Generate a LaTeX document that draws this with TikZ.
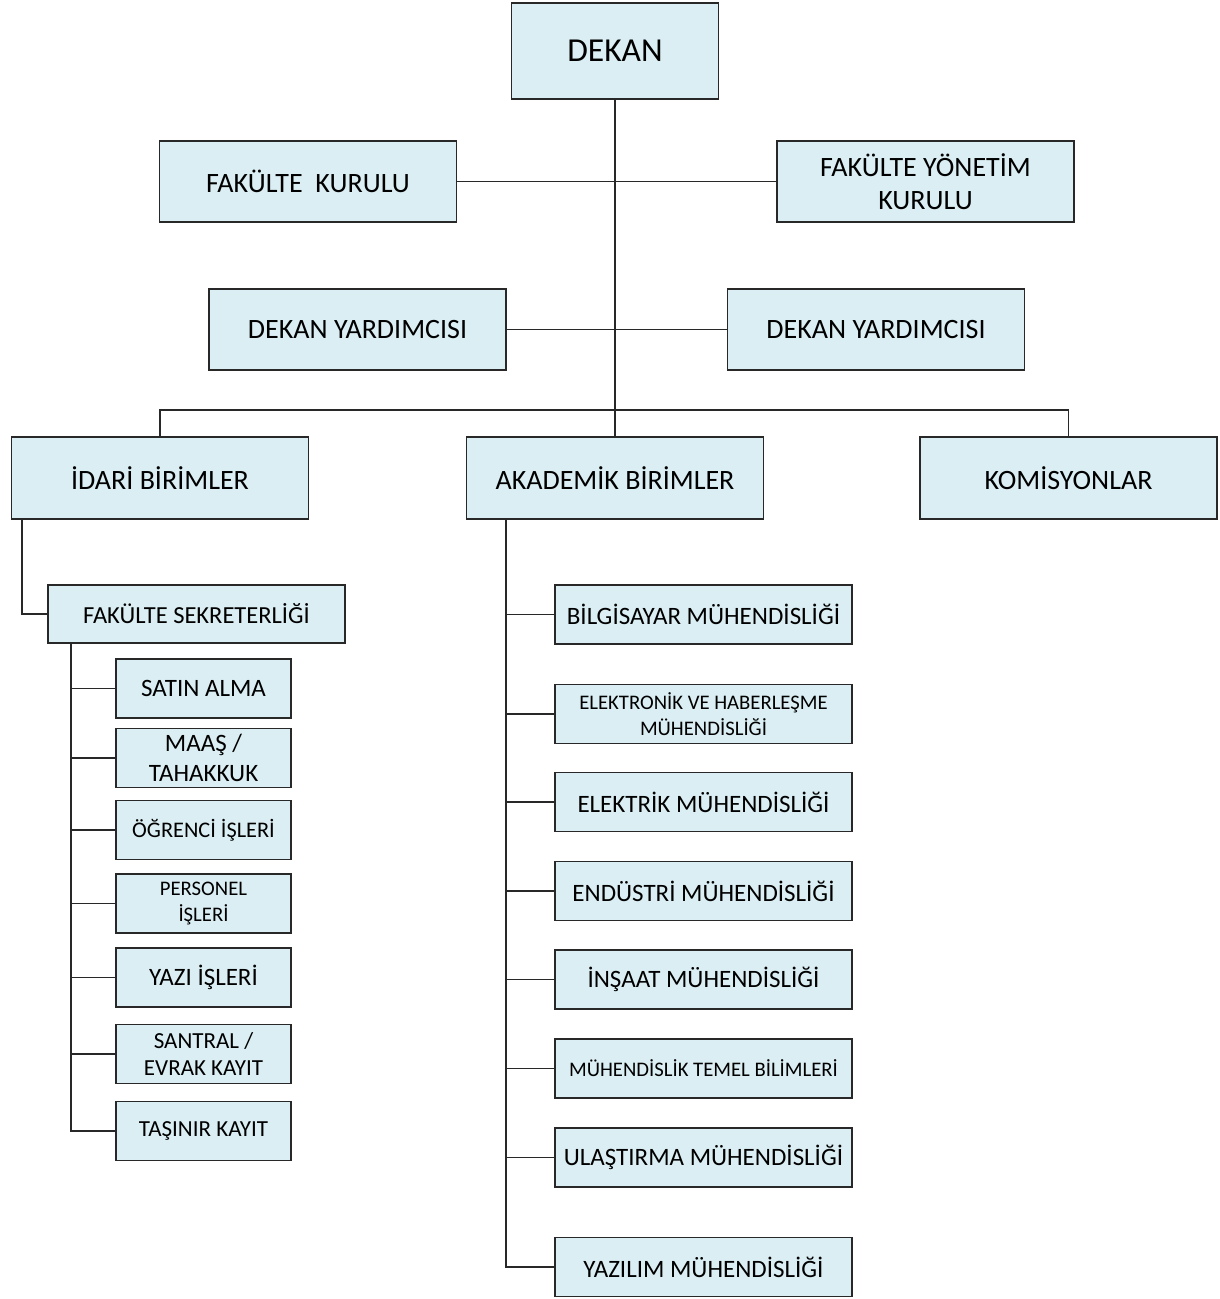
\documentclass[tikz,border=0pt]{standalone}
\usepackage{fontspec}
\setmainfont{Carlito}
\definecolor{boxfill}{RGB}{218,238,243}
\definecolor{linec}{RGB}{40,40,40}
\begin{document}
\begin{tikzpicture}[x=1pt,y=-1pt,
  box/.style={draw=linec, line width=1.4pt, fill=boxfill, inner sep=0pt, align=center},
  wide/.style={minimum width=297pt},
  narrow/.style={minimum width=175pt},
  tall/.style={minimum height=81pt},
  low/.style={minimum height=59pt},
  fA/.style={font=\fontsize{33.5}{40}\selectfont},
  fB/.style={font=\fontsize{28}{33}\selectfont},
  fC/.style={font=\fontsize{25}{29.5}\selectfont},
  fD/.style={font=\fontsize{23}{27.5}\selectfont},
  fE/.style={font=\fontsize{20.7}{26.5}\selectfont},
  conn/.style={draw=linec, line width=1.4pt}]
\useasboundingbox (0,0) rectangle (1220,1299);

% top levels
\node[box, fA, minimum width=207pt, minimum height=96pt] (dekan) at (615,51) {DEKAN};
\node[box, fB, wide, tall] (fk) at (308,181.5) {FAKÜLTE\ \ KURULU};
\node[box, fB, wide, tall] (fyk) at (925.5,181.5) {FAKÜLTE YÖNETİM\\KURULU};
\node[box, fB, wide, tall] (dy1) at (357.5,329.5) {DEKAN YARDIMCISI};
\node[box, fB, wide, tall] (dy2) at (876,329.5) {DEKAN YARDIMCISI};
\node[box, fB, wide, minimum height=82pt] (idari) at (160,478) {İDARİ BİRİMLER};
\node[box, fB, wide, minimum height=82pt] (akad) at (615,478) {AKADEMİK BİRİMLER};
\node[box, fB, wide, minimum height=82pt] (kom) at (1068.5,478) {KOMİSYONLAR};

\coordinate (bar) at (615,410);
\draw[conn] (dekan.south) -- (akad.north);
\draw[conn] (fk.east) -- (fyk.west);
\draw[conn] (dy1.east) -- (dy2.west);
\draw[conn] (idari.north) |- (bar) -| (kom.north);

% idari side
\node[box, fC, font=\fontsize{24.5}{29}\selectfont, wide, minimum height=58pt] (fs) at (196.5,614) {FAKÜLTE SEKRETERLİĞİ};
\coordinate (tI) at (22,0);
\draw[conn] (idari.south -| tI) |- (fs.west);

\node[box, fC, narrow, low] (sa) at (203.5,688.5) {SATIN ALMA};
\node[box, fC, narrow, low] (ma) at (203.5,758) {MAAŞ /\\TAHAKKUK};
\node[box, fD, font=\fontsize{22.3}{27}\selectfont, narrow, low] (og) at (203.5,830) {ÖĞRENCİ İŞLERİ};
\node[box, fE, narrow, low] (pe) at (203.5,903.5) {PERSONEL\\İŞLERİ};
\node[box, fC, narrow, low] (ya) at (203.5,977.5) {YAZI İŞLERİ};
\node[box, fD, narrow, low] (sn) at (203.5,1054) {SANTRAL /\\EVRAK KAYIT};
\node[box, fD, narrow, low] (ta) at (203.5,1131) {TAŞINIR KAYIT};

\coordinate (tL) at (71,0);
\draw[conn] (fs.south -| tL) |- (ta.west);
\foreach \n in {sa,ma,og,pe,ya,sn}{\draw[conn] (\n.west) -- (\n.west -| tL);}

% akademik side
\node[box, fC, wide, low] (bi) at (703.5,614.5) {BİLGİSAYAR MÜHENDİSLİĞİ};
\node[box, fE, wide, low] (el) at (703.5,714) {ELEKTRONİK VE HABERLEŞME\\MÜHENDİSLİĞİ};
\node[box, fC, wide, low] (ek) at (703.5,802) {ELEKTRİK MÜHENDİSLİĞİ};
\node[box, fC, wide, low] (en) at (703.5,891) {ENDÜSTRİ MÜHENDİSLİĞİ};
\node[box, fC, wide, low] (ins) at (703.5,979.5) {İNŞAAT MÜHENDİSLİĞİ};
\node[box, fE, wide, low] (mt) at (703.5,1068.5) {MÜHENDİSLİK TEMEL BİLİMLERİ};
\node[box, fC, wide, low] (ul) at (703.5,1157.5) {ULAŞTIRMA MÜHENDİSLİĞİ};
\node[box, fC, wide, low] (yz) at (703.5,1267) {YAZILIM MÜHENDİSLİĞİ};

\coordinate (tR) at (506,0);
\draw[conn] (akad.south -| tR) |- (yz.west);
\foreach \n in {bi,el,ek,en,ins,mt,ul}{\draw[conn] (\n.west) -- (\n.west -| tR);}
\end{tikzpicture}
\end{document}
